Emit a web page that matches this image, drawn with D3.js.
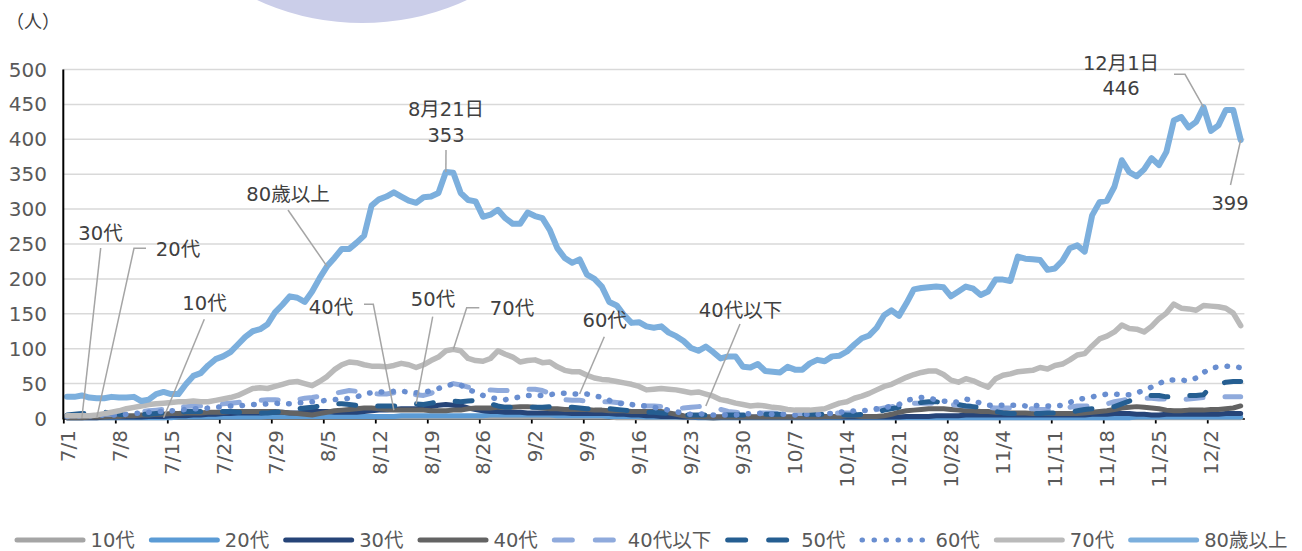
<!DOCTYPE html>
<html>
<head>
<meta charset="utf-8">
<script src="https://cdn.jsdelivr.net/npm/d3@7"></script>
<style>
  body { margin: 0; background: #fff; }
  svg { display: block; font-family: "DejaVu Sans", "Noto Sans CJK JP", sans-serif; }
</style>
</head>
<body>
<div id="chart"></div>
<script>
// categories: one point per day
const startDate = "2022-07-01";
const endDate = "2022-12-06";
const tickLabels = ["7/1","7/8","7/15","7/22","7/29","8/5","8/12","8/19","8/26","9/2","9/9","9/16",
  "9/23","9/30","10/7","10/14","10/21","10/28","11/4","11/11","11/18","11/25","12/2"];
const yTicks = [0, 50, 100, 150, 200, 250, 300, 350, 400, 450, 500];

// series values (persons)
const age10 = [1,1,1,1,1,1,1,1,1,1, 1,1,1,1,2,2,2,2,2,2, 2,2,2,2,2,2,2,2,2,2, 2,2,2,2,2,2,2,2,2,2,
  2,2,2,2,2,2,2,2,2,2, 2,2,2,2,2,2,2,2,2,2, 2,2,2,2,2,2,2,2,2,2, 2,2,2,2,1,1,1,1,1,1,
  1,1,1,1,1,1,1,0,1,1, 1,1,1,1,1,1,1,1,1,1, 1,1,1,1,1,1,1,1,1,1, 1,1,1,1,1,1,1,1,1,1,
  1,1,1,1,1,1,1,1,1,1, 1,1,1,1,1,1,1,1,1,1, 1,1,1,1,1,1,1,1,1,1, 1,1,1,1,1,1,1,1,1];
const age20 = [1,1,1,1,1,1,1,1,1,1, 1,1,1,1,1,2,2,2,2,2, 2,2,2,2,2,2,2,3,3,3, 3,3,3,3,3,3,3,3,3,3,
  3,3,3,3,3,4,4,4,4,4, 4,4,4,4,4,4,4,5,5,5, 5,5,5,5,5,5,4,4,4,4, 4,4,4,3,3,3,3,3,2,2,
  2,2,2,2,2,1,1,1,1,1, 1,1,1,1,1,1,1,1,1,1, 1,1,1,1,1,1,1,1,1,1, 1,1,1,1,1,1,1,1,1,1,
  1,1,1,1,1,1,1,1,1,1, 1,1,1,1,1,1,1,1,1,1, 1,1,1,1,2,2,2,2,2,2, 2,2,2,2,2,2,2,2,2];
const age30 = [1,1,1,1,1,2,2,2,2,2, 2,3,3,3,4,4,4,5,5,6, 6,7,7,8,8,8,8,9,9,9, 8,8,9,10,10,10,9,9,9,9,
  10,11,12,12,13,14,14,14,15,17, 19,20,19,18,15,13,11,10,10,9, 9,9,8,8,8,8,8,8,7,7, 7,7,7,7,6,6,5,5,4,4,
  3,3,3,2,2,2,2,2,2,2, 2,2,2,2,2,2,2,2,2,2, 2,2,2,2,2,2,2,2,2,2, 2,2,2,3,3,3,3,4,4,4,
  4,5,5,5,5,5,5,5,5,5, 5,5,5,5,5,5,5,5,6,6, 6,7,7,7,6,6,5,5,6,6, 6,6,6,6,6,6,7,7,7];
const age40 = [1,1,1,2,2,2,3,3,4,4, 5,5,6,6,7,7,8,8,8,9, 9,9,10,10,10,10,10,10,10,9, 8,7,6,5,7,9,11,12,13,14,
  15,15,14,13,12,12,12,12,12,11, 11,11,12,12,14,15,15,15,16,16, 16,17,17,16,15,14,14,13,13,13,
  13,12,12,11,11,11,10,10,10,10, 10,8,6,4,3,3,2,2,2,2, 2,2,2,2,2,2,2,2,2,2, 2,2,3,3,3,4,4,3,3,3,
  4,6,9,11,12,13,14,14,14,13, 12,11,11,10,10,9,9,8,8,8, 7,7,7,7,7,7,7,8,9,10,
  11,13,15,16,17,16,15,14,12,11, 11,12,12,12,13,13,14,15,18];
const ageUnder40s = [4,4,5,5,5,6,6,7,8,9, 10,11,12,13,15,16,17,18,18,19, 20,21,22,23,24,25,26,27,27,26,
  25,27,29,30,32,34,36,38,40,39, 37,36,35,35,37,38,36,34,33,36, 42,48,50,48,45,42,41,41,40,40,
  40,41,42,42,40,36,30,27,26,26, 25,24,24,24,23,22,21,20,18,18, 17,15,14,15,16,17,18,16,13,10,
  9,8,8,8,8,8,7,7,7,7, 7,7,7,7,8,8,8,8,10,13, 15,17,18,20,22,22,22,22,21,20,
  19,18,18,17,16,15,15,15,15,14, 14,13,13,13,14,16,18,18,18,19, 21,24,26,28,29,29,29,28,28,27,
  27,28,29,30,31,31,31,31,31];
const age50 = [5,6,7,8,9,9,8,6,5,5, 6,6,7,8,8,9,10,10,10,10, 10,10,10,9,9,9,8,8,9,10,
  12,14,15,16,18,20,21,21,20,19, 18,18,18,18,18,18,19,21,20,22, 24,25,25,24,25,26,24,21,18,16,
  16,16,16,16,16,17,17,17,16,15, 14,14,14,14,13,12,11,10,9,9, 8,7,6,5,5,5,5,5,5,5,
  5,5,5,5,6,6,6,6,6,6, 6,6,6,6,6,5,5,6,7,9, 12,14,16,18,21,23,24,24,23,21,
  20,18,17,16,13,10,8,7,7,7, 7,7,8,8,8,9,11,13,14,15, 15,17,21,25,29,31,33,33,31,32,
  33,33,33,34,46,49,52,53,53];
const age60 = [3,3,4,4,4,5,5,5,6,7, 8,9,10,10,11,12,13,14,14,15, 16,17,18,18,19,20,20,21,22,21,
  21,22,23,24,25,26,27,28,29,31, 35,37,38,38,39,39,38,37,37,40, 43,47,49,48,41,38,33,30,28,27,
  29,31,33,33,33,34,36,36,35,35, 35,33,30,26,22,21,20,18,18,16, 14,12,10,7,6,7,6,5,5,5,
  5,6,7,7,7,6,6,6,5,6, 6,6,7,7,9,10,11,11,12,14, 15,18,20,26,28,30,29,27,25,23,
  24,28,25,22,19,19,19,19,19,18, 18,19,18,18,19,23,27,29,31,33, 35,35,34,34,37,40,45,50,55,55,
  55,54,58,66,72,74,75,74,73];
const age70 = [4,4,4,4,5,7,9,11,14,16, 18,20,21,22,23,24,24,25,24,24, 26,28,30,33,38,43,44,43,46,49,
  52,53,50,47,53,60,70,77,81,80, 77,75,75,74,76,79,77,73,77,83, 88,97,99,97,86,83,82,86,97,92,
  88,81,83,84,80,81,74,69,67,67, 62,58,56,55,53,51,49,46,41,42, 43,42,41,39,37,38,35,32,27,25,
  22,20,18,19,18,16,15,13,12,12, 12,13,14,18,22,24,29,32,36,41, 46,49,54,59,63,66,68,68,63,55,
  52,57,54,49,45,57,62,64,67,68, 69,73,71,76,78,84,91,93,104,114, 118,124,134,129,128,124,132,143,151,164,
  158,157,155,162,161,160,158,151,133];
const age80plus = [31,31,33,30,29,29,31,30,30,31, 25,27,35,38,35,35,49,61,65,76, 85,89,95,106,117,125,128,135,152,163,
  175,173,167,182,201,218,230,243,243,252, 262,305,314,318,324,318,312,309,317,318,
  323,353,352,323,313,311,289,292,299,287, 279,279,295,290,287,270,244,230,223,228,
  206,200,189,167,162,148,137,138,132,130, 132,123,118,111,101,97,103,95,86,89,
  89,74,73,78,68,67,66,74,70,70, 79,84,82,89,90,96,106,115,119,130,
  148,155,147,165,185,187,188,189,188,175, 182,189,186,177,182,199,199,197,232,229,
  228,227,213,215,226,244,248,239,291,310, 312,332,370,353,347,357,373,363,382,427,
  432,417,425,446,412,420,442,442,399];

const seriesNames = ["10代","20代","30代","40代","40代以下","50代","60代","70代","80歳以上"];
const seriesValues = [age10, age20, age30, age40, ageUnder40s, age50, age60, age70, age80plus];
const seriesColors = ["#a5a5a5","#5b9bd5","#264478","#636363","#8faadc","#255e91","#698ed0","#bababa","#7cafdd"];
const seriesDash = [null, null, null, null, "17,22", "17,22", "0.5,11.2", null, null];
const seriesWidth = [5, 5, 5, 5, 5, 5, 5.5, 5.5, 6];

const W = 1302, H = 551;
const parse = d3.timeParse("%Y-%m-%d");
const dates = d3.timeDay.range(parse(startDate), d3.timeDay.offset(parse(endDate), 1));

const svg = d3.select("#chart").append("svg")
  .attr("width", W).attr("height", H);

// decorative circle peeking in at the top
svg.append("circle")
  .attr("cx", 362).attr("cy", -228).attr("r", 251)
  .attr("fill", "#cbcee9");

const x = d3.scaleTime()
  .domain([dates[0], d3.timeDay.offset(dates[dates.length - 1], 1)])
  .range([63.3, 1244.4]);
const bw = x(dates[1]) - x(dates[0]);
const y = d3.scaleLinear().domain([0, 500]).range([418.5, 69.5]);
const px = i => x(dates[i]) + bw / 2;

// gridlines
svg.append("g")
  .selectAll("line")
  .data(yTicks.filter(d => d > 0))
  .join("line")
  .attr("x1", x.range()[0]).attr("x2", x.range()[1])
  .attr("y1", d => y(d)).attr("y2", d => y(d))
  .attr("stroke", "#d9d9d9").attr("stroke-width", 1.5);

// y tick labels
svg.append("g")
  .selectAll("text")
  .data(yTicks)
  .join("text")
  .attr("x", 47).attr("y", d => y(d)).attr("dy", "0.35em")
  .attr("text-anchor", "end")
  .attr("font-size", 20).attr("fill", "#595959")
  .text(d => d);

svg.append("text")
  .attr("x", 6).attr("y", 28)
  .attr("font-size", 18).attr("fill", "#404040")
  .text("（人）");

// x axis
const fmt = d3.timeFormat("%-m/%-d");
const tickDates = dates.filter(d => tickLabels.includes(fmt(d)));
const xAxis = svg.append("g")
  .attr("transform", `translate(0,${y(0)})`)
  .call(d3.axisBottom(x).tickValues(tickDates).tickSize(5).tickSizeOuter(0).tickFormat(fmt));
xAxis.select(".domain").attr("stroke", "#000").attr("stroke-width", 1.5);
xAxis.selectAll(".tick line").attr("stroke", "#000").attr("stroke-width", 1.8);
xAxis.selectAll(".tick text")
  .attr("x", 0).attr("y", 0).attr("dy", "0.35em")
  .attr("transform", `translate(${bw / 2},11.5) rotate(-90)`)
  .attr("text-anchor", "end")
  .attr("font-size", 20).attr("fill", "#595959")
  .attr("font-family", "DejaVu Sans");

// series lines
const line = d3.line()
  .x((d, i) => px(i))
  .y(d => y(d))
  .curve(d3.curveLinear);

svg.append("g")
  .selectAll("path")
  .data(seriesNames.map((name, k) => ({name, k})))
  .join("path")
  .attr("d", s => line(seriesValues[s.k]))
  .attr("fill", "none")
  .attr("stroke", s => seriesColors[s.k])
  .attr("stroke-width", s => seriesWidth[s.k])
  .attr("stroke-dasharray", s => seriesDash[s.k])
  .attr("stroke-linecap", "round")
  .attr("stroke-linejoin", "round");

// y axis line
svg.append("line")
  .attr("x1", x.range()[0]).attr("x2", x.range()[0])
  .attr("y1", y(500)).attr("y2", y(0) + 1)
  .attr("stroke", "#000").attr("stroke-width", 2);

// annotations: text lines, leader start points, anchored data point
const annotations = [
  {lines: ["8月21日", "353"], cx: 446, cy: [109, 135], path: [[446, 150]], series: 8, i: 51},
  {lines: ["12月1日", "446"], cx: 1121, cy: [63, 88], path: [[1174, 74.3], [1185, 74.3]], series: 8, i: 153},
  {lines: ["399"], cx: 1230, cy: [203], path: [[1230.5, 185]], series: 8, i: 158},
  {lines: ["80歳以上"], cx: 288, cy: [194.5], path: [[288, 210]], series: 8, i: 35},
  {lines: ["30代"], cx: 100.5, cy: [233.5], path: [[100.7, 248]], series: 2, i: 2},
  {lines: ["20代"], cx: 178, cy: [249], path: [[146, 248.3], [134, 248.3]], series: 1, i: 4},
  {lines: ["10代"], cx: 204.5, cy: [303.5], path: [[204.3, 319.3]], series: 0, i: 13},
  {lines: ["40代"], cx: 331, cy: [307.5], path: [[364, 304.3], [373.3, 304.3]], series: 3, i: 44},
  {lines: ["50代"], cx: 433, cy: [299], path: [[432.7, 316.7]], series: 5, i: 47},
  {lines: ["70代"], cx: 512, cy: [308.3], path: [[479.3, 307.7], [466.7, 307.7]], series: 7, i: 52},
  {lines: ["60代"], cx: 604.7, cy: [320.3], path: [[604.3, 336.7]], series: 6, i: 69},
  {lines: ["40代以下"], cx: 740.5, cy: [310], path: [[740, 324]], series: 4, i: 86}
];

const ann = svg.append("g");
annotations.forEach(a => {
  const pts = a.path.concat([[px(a.i), y(seriesValues[a.series][a.i])]]);
  ann.append("path")
    .attr("d", d3.line()(pts))
    .attr("fill", "none")
    .attr("stroke", "#a5a5a5").attr("stroke-width", 1.5);
  a.lines.forEach((t, j) => {
    ann.append("text")
      .attr("x", a.cx).attr("y", a.cy[j]).attr("dy", "0.35em")
      .attr("text-anchor", "middle")
      .attr("font-size", 19.5).attr("fill", "#404040")
      .text(t);
  });
});

// legend
const legend = svg.append("g");
let lx = 0;
seriesNames.forEach((name, k) => {
  const g = legend.append("g").attr("transform", `translate(${lx},0)`);
  g.append("line")
    .attr("x1", 2.5).attr("x2", 68.5).attr("y1", 0).attr("y2", 0)
    .attr("stroke", seriesColors[k])
    .attr("stroke-width", 5)
    .attr("stroke-dasharray", seriesDash[k] === "0.5,11.2" ? "0.5,11.5" : (seriesDash[k] ? "18,23" : null))
    .attr("stroke-linecap", "round");
  const t = g.append("text")
    .attr("x", 76).attr("y", 0).attr("dy", "0.35em")
    .attr("font-size", 19.5).attr("fill", "#595959")
    .text(name);
  lx += 76 + t.node().getComputedTextLength() + 14;
});
lx -= 14;
legend.attr("transform", `translate(${(W - 14 - lx) / 2 + 7},540)`);
</script>
</body>
</html>
